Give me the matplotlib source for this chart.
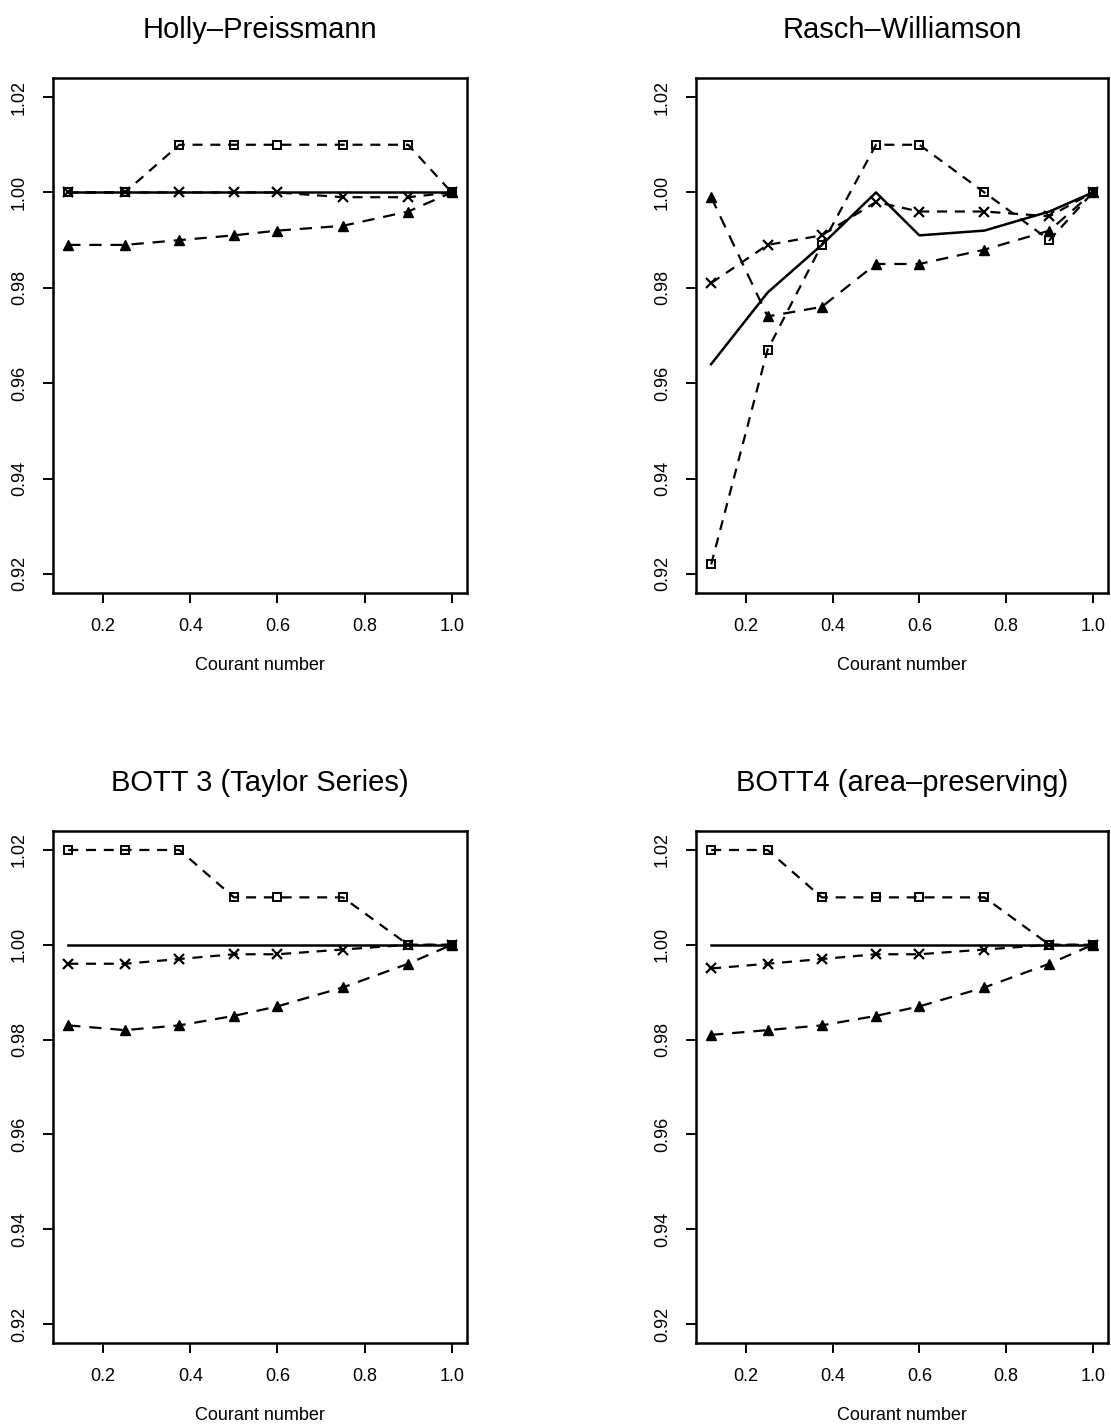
import matplotlib
from matplotlib import pyplot as plt

matplotlib.rcParams['font.family'] = ['Liberation Sans', 'DejaVu Sans']

# Courant numbers used in every panel
courant = [0.12, 0.25, 0.375, 0.5, 0.6, 0.75, 0.9, 1.0]

titles = ['Holly\u2013Preissmann', 'Rasch\u2013Williamson',
          'BOTT 3 (Taylor Series)', 'BOTT4 (area\u2013preserving)']

hp_square = [1.00, 1.00, 1.01, 1.01, 1.01, 1.01, 1.01, 1.00]
hp_cross = [1.00, 1.00, 1.00, 1.00, 1.00, 0.999, 0.999, 1.00]
hp_triangle = [0.989, 0.989, 0.990, 0.991, 0.992, 0.993, 0.996, 1.00]
hp_solid = [1.00, 1.00, 1.00, 1.00, 1.00, 1.00, 1.00, 1.00]

rw_square = [0.922, 0.967, 0.989, 1.010, 1.010, 1.000, 0.990, 1.00]
rw_cross = [0.981, 0.989, 0.991, 0.998, 0.996, 0.996, 0.995, 1.00]
rw_triangle = [0.999, 0.974, 0.976, 0.985, 0.985, 0.988, 0.992, 1.00]
rw_solid = [0.964, 0.979, 0.989, 1.000, 0.991, 0.992, 0.996, 1.00]

b3_square = [1.02, 1.02, 1.02, 1.01, 1.01, 1.01, 1.00, 1.00]
b3_cross = [0.996, 0.996, 0.997, 0.998, 0.998, 0.999, 1.00, 1.00]
b3_triangle = [0.983, 0.982, 0.983, 0.985, 0.987, 0.991, 0.996, 1.00]
b3_solid = [1.00, 1.00, 1.00, 1.00, 1.00, 1.00, 1.00, 1.00]

b4_square = [1.02, 1.02, 1.01, 1.01, 1.01, 1.01, 1.00, 1.00]
b4_cross = [0.995, 0.996, 0.997, 0.998, 0.998, 0.999, 1.00, 1.00]
b4_triangle = [0.981, 0.982, 0.983, 0.985, 0.987, 0.991, 0.996, 1.00]
b4_solid = [1.00, 1.00, 1.00, 1.00, 1.00, 1.00, 1.00, 1.00]

panels = [(hp_solid, hp_square, hp_cross, hp_triangle),
          (rw_solid, rw_square, rw_cross, rw_triangle),
          (b3_solid, b3_square, b3_cross, b3_triangle),
          (b4_solid, b4_square, b4_cross, b4_triangle)]

yticks = [0.92, 0.94, 0.96, 0.98, 1.00, 1.02]
xticks = [0.2, 0.4, 0.6, 0.8, 1.0]

fig = plt.figure(figsize=(11.11, 14.27), dpi=100)
W, H = 1111, 1427
# axes boxes in pixels: left, top, right, bottom
boxes = [(53, 78, 467, 593), (696, 78, 1108, 593),
         (53, 831, 467, 1343), (696, 831, 1108, 1343)]

for box, title, (solid, square, cross, tri) in zip(boxes, titles, panels):
    l, t, r, b = box
    ax = fig.add_axes([l / W, 1 - b / H, (r - l) / W, (b - t) / H])
    ax.plot(courant, solid, '-', color='k', lw=1.8)
    ax.plot(courant, square, 's', ls=(0, (4.5, 3.5)), color='k', lw=1.6,
            markersize=6, markerfacecolor='none', markeredgewidth=1.4)
    ax.plot(courant, cross, 'x', ls=(0, (4.5, 3.5)), color='k', lw=1.6,
            markersize=7, markeredgewidth=1.6)
    ax.plot(courant, tri, '^', ls=(0, (5.5, 4)), color='k', lw=1.6,
            markersize=7)
    ax.set_xlim(0.085, 1.035)
    ax.set_ylim(0.916, 1.024)
    ax.set_yticks(yticks)
    ax.set_yticklabels(['%.2f' % v for v in yticks], rotation=90, va='center')
    ax.set_xticks(xticks)
    ax.set_xticklabels(['%.1f' % v for v in xticks])
    ax.tick_params(direction='out', length=7, width=1.4, labelsize=13, pad=11)
    for s in ax.spines.values():
        s.set_linewidth(1.8)
    ax.set_xlabel('Courant number', fontsize=13, labelpad=16)
    ax.set_title(title, fontsize=21, pad=29)

plt.savefig('out.png', dpi=100)
